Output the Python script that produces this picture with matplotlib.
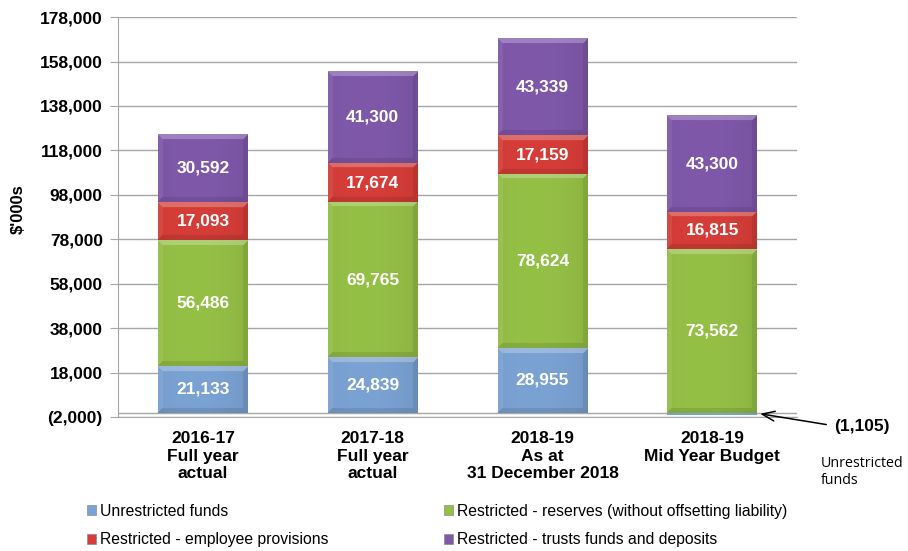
import numpy as np
import matplotlib
matplotlib.use("Agg")
import matplotlib.pyplot as plt
from matplotlib.patches import Patch
from matplotlib.ticker import FuncFormatter
from matplotlib.colors import to_rgb

plt.rcParams['font.family'] = ['Liberation Sans', 'DejaVu Sans']

categories = ["2016-17\nFull year\nactual", "2017-18\nFull year\nactual",
              "2018-19\nAs at\n31 December 2018", "2018-19\nMid Year Budget"]
unrestricted = [21133, 24839, 28955, -1105]
reserves = [56486, 69765, 78624, 73562]
employee = [17093, 17674, 17159, 16815]
trusts = [30592, 41300, 43339, 43300]
series_names = ["Unrestricted funds",
                "Restricted - reserves (without offsetting liability)",
                "Restricted - employee provisions",
                "Restricted - trusts funds and deposits"]
colors = ["#7aa2d3", "#95c046", "#d63d38", "#7f58aa"]

fig = plt.figure(figsize=(9.08, 5.51), dpi=100)
ax = fig.add_axes([0.130, 0.243, 0.748, 0.726])
ax.set_xlim(-0.5, 3.5)
ax.set_ylim(-2000, 178000)

x = np.arange(len(categories))
width = 0.53

# stacking: negatives go below zero, positives stack upward
pos_base = np.zeros(len(x))
neg_base = np.zeros(len(x))
layers = []
for vals, col in zip([unrestricted, reserves, employee, trusts], colors):
    vals = np.array(vals, dtype=float)
    bottoms = np.where(vals >= 0, pos_base, neg_base)
    bars = ax.bar(x, vals, width, bottom=bottoms, color=col, zorder=3,
                  edgecolor='none')
    layers.append((bars, vals, bottoms, col))
    pos_base = pos_base + np.where(vals >= 0, vals, 0)
    neg_base = neg_base + np.where(vals < 0, vals, 0)

fig.canvas.draw()


def bevel_image(col, wpx, hpx):
    base = np.array(to_rgb(col))
    wpx = max(int(wpx), 2)
    hpx = max(int(hpx), 2)
    img = np.tile(base, (hpx, wpx, 1))
    xs = np.arange(wpx)
    ys = np.arange(hpx)
    t = xs / (wpx - 1)
    shade = 1.0 - 0.06 * (np.abs(t - 0.4) / 0.6) ** 2
    img = img * shade[None, :, None]
    bev = min(5, hpx // 3)
    Y, X = np.meshgrid(ys, xs, indexing='ij')
    top = (Y < bev) & (X >= Y) & (X <= wpx - 1 - Y)
    bottom = (Y >= hpx - bev) & (X >= hpx - 1 - Y) & (X <= wpx - hpx + Y)
    left = (X < bev) & ~top & ~bottom
    right = (X >= wpx - bev) & ~top & ~bottom
    img[top] = img[top] * 0.75 + 0.25
    img[left] = img[left] * 0.93 + 0.07
    img[right] = img[right] * 0.92
    img[bottom] = img[bottom] * 0.9
    return np.clip(img, 0, 1)


for bars, vals, bottoms, col in layers:
    for p in bars:
        bb = p.get_window_extent()
        x0, y0 = p.get_x(), p.get_y()
        w, h = p.get_width(), p.get_height()
        img = bevel_image(col, bb.width, abs(bb.height))
        ylo, yhi = min(y0, y0 + h), max(y0, y0 + h)
        ax.imshow(img, extent=(x0, x0 + w, ylo, yhi), aspect='auto',
                  interpolation='bilinear', zorder=4, origin='upper')

ax.set_xlim(-0.5, 3.5)
ax.set_ylim(-2000, 178000)

# value labels
for bars, vals, bottoms, col in layers:
    for xi, v, b in zip(x, vals, bottoms):
        if v <= 0:
            continue
        ax.text(xi, b + v / 2, f"{int(v):,}", ha='center', va='center',
                color='white', fontsize=12.5, fontweight='bold', zorder=6)

# axes styling
yt = np.arange(-2000, 178001, 20000)
ax.set_yticks(yt)
ax.yaxis.set_major_formatter(FuncFormatter(
    lambda v, p: f"({abs(int(v)):,})" if v < 0 else f"{int(v):,}"))
ax.grid(axis='y', color='#a6a6a6', linewidth=1, zorder=0)
ax.set_axisbelow(True)
for s in ['top', 'right']:
    ax.spines[s].set_visible(False)
ax.spines['left'].set_color('#a6a6a6')
ax.spines['bottom'].set_color('#a6a6a6')
ax.axhline(0, color='#a6a6a6', linewidth=1, zorder=1)
ax.tick_params(axis='y', direction='out', length=6, color='#a6a6a6',
               labelsize=12.5, pad=5)
for lab in ax.get_yticklabels():
    lab.set_fontweight('bold')
ax.set_xticks(x)
ax.set_xticklabels(categories, fontsize=12.5, fontweight='bold',
                   linespacing=1.22)
ax.tick_params(axis='x', length=0, pad=10)
ax.set_ylabel("$'000s", fontsize=12, fontweight='bold')
ax.yaxis.set_label_coords(-0.1355, 0.52)

# annotation for the negative unrestricted balance
ax.annotate("", xy=(3 + width / 2, -300), xycoords='data',
            xytext=(829, 551 - 425), textcoords='figure pixels',
            arrowprops=dict(arrowstyle='->,head_length=0.9,head_width=0.35',
                            color='black', lw=1.1), zorder=7)
fig.text(862 / 908, 1 - 426 / 551, f"({abs(unrestricted[3]):,})",
         ha='center', va='center', fontsize=12.5, fontweight='bold')
fig.text(821 / 908, 1 - 472 / 551, "Unrestricted\nfunds", ha='left',
         va='center', fontsize=10.3, family='Open Sans', linespacing=1.25)

# legend
handles = [Patch(facecolor=c, edgecolor='#8c8c8c', linewidth=0.5)
           for c in colors]
order = [0, 2, 1, 3]
fig.legend([handles[i] for i in order], [series_names[i] for i in order],
           ncol=2, frameon=False, loc='upper left',
           bbox_to_anchor=(0.080, 0.111), fontsize=11.3,
           handlelength=0.6, handleheight=0.6, handletextpad=0.25,
           columnspacing=7.35, labelspacing=0.85)

fig.savefig("out.png", dpi=100)
